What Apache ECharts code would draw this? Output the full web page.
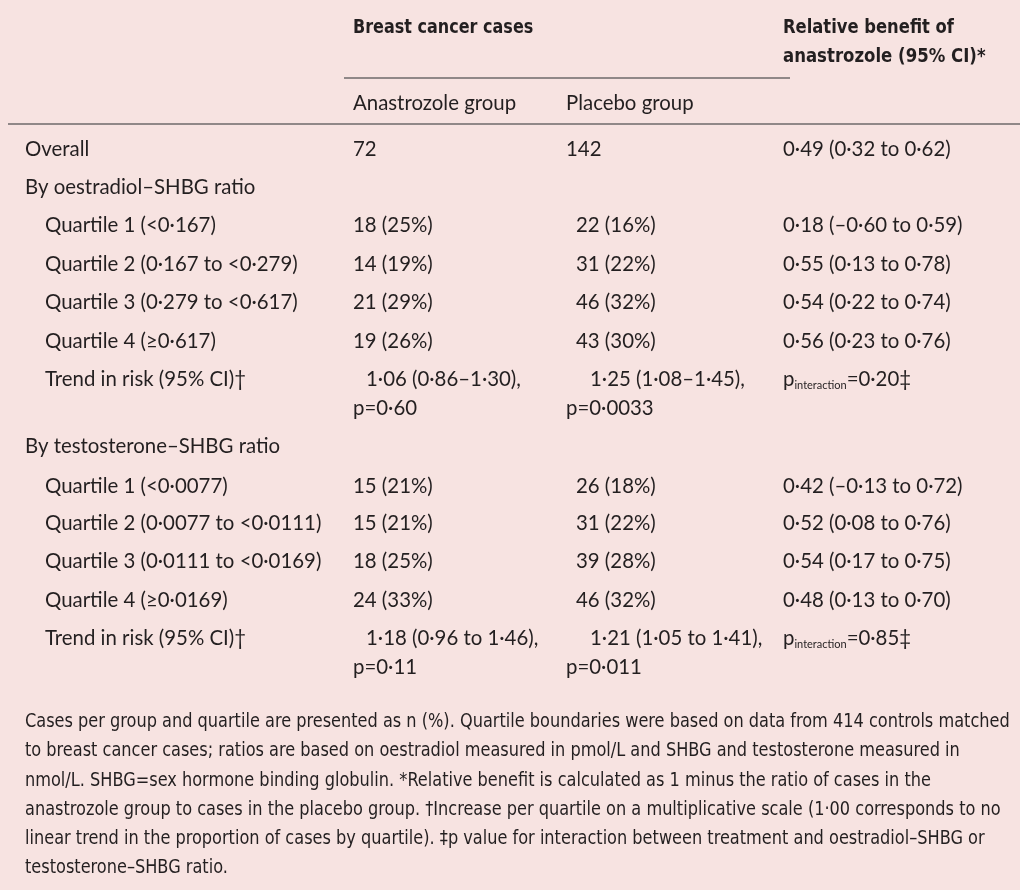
<!DOCTYPE html>
<html><head><meta charset="utf-8">
<script src="https://cdn.jsdelivr.net/npm/echarts@6/dist/echarts.min.js"></script>
<style>html,body{margin:0;padding:0;background:#F7E3E1}#c{width:1020px;height:890px}</style>
</head><body><div id="c"></div>
<script>
// ---------- data ----------
const topHeaders = ['Breast cancer cases', 'Relative benefit of\nanastrozole (95% CI)*'];
const groupHeaders = ['Anastrozole group', 'Placebo group'];
const rowLabels = [
  'Overall',
  'By oestradiol–SHBG ratio',
  'Quartile 1 (<0·167)',
  'Quartile 2 (0·167 to <0·279)',
  'Quartile 3 (0·279 to <0·617)',
  'Quartile 4 (≥0·617)',
  'Trend in risk (95% CI)†',
  'By testosterone–SHBG ratio',
  'Quartile 1 (<0·0077)',
  'Quartile 2 (0·0077 to <0·0111)',
  'Quartile 3 (0·0111 to <0·0169)',
  'Quartile 4 (≥0·0169)',
  'Trend in risk (95% CI)†'
];
const anastrozoleCases = ['72', '', '18 (25%)', '14 (19%)', '21 (29%)', '19 (26%)',
  '1·06 (0·86–1·30),\np=0·60', '', '15 (21%)', '15 (21%)', '18 (25%)', '24 (33%)',
  '1·18 (0·96 to 1·46),\np=0·11'];
const placeboCases = ['142', '', '22 (16%)', '31 (22%)', '46 (32%)', '43 (30%)',
  '1·25 (1·08–1·45),\np=0·0033', '', '26 (18%)', '31 (22%)', '39 (28%)', '46 (32%)',
  '1·21 (1·05 to 1·41),\np=0·011'];
const relativeBenefit = ['0·49 (0·32 to 0·62)', '', '0·18 (–0·60 to 0·59)', '0·55 (0·13 to 0·78)',
  '0·54 (0·22 to 0·74)', '0·56 (0·23 to 0·76)', 'p_interaction=0·20‡', '',
  '0·42 (–0·13 to 0·72)', '0·52 (0·08 to 0·76)', '0·54 (0·17 to 0·75)', '0·48 (0·13 to 0·70)',
  'p_interaction=0·85‡'];
const footnoteLines = [
  'Cases per group and quartile are presented as n (%). Quartile boundaries were based on data from 414 controls matched',
  'to breast cancer cases; ratios are based on oestradiol measured in pmol/L and SHBG and testosterone measured in',
  'nmol/L. SHBG=sex hormone binding globulin. *Relative benefit is calculated as 1 minus the ratio of cases in the',
  'anastrozole group to cases in the placebo group. †Increase per quartile on a multiplicative scale (1·00 corresponds to no',
  'linear trend in the proportion of cases by quartile). ‡p value for interaction between treatment and oestradiol–SHBG or',
  'testosterone–SHBG ratio.'
];

// ---------- layout ----------
const rowIndent = [0,0,1,1,1,1,1,0,1,1,1,1,1];
const rowY = [149,187,225,264,302,341,379,446,486,523,561,600,638];
const colX = [25, 353, 566, 783];
const indentPx = 20;
const secondLineGap = 29;
const firstLineShift = [0, 13, 24, 0];
const quartileShift = [0, 0, 10, 0];
const bodyFont = '20.4px Lato, "Noto Sans", sans-serif';
const headFont = 'bold 20px "DejaVu Sans Condensed", sans-serif';
const noteFont = '19px "DejaVu Sans Condensed", sans-serif';
const ink = '#231f20';

const cells = [];
cells.push({x: colX[1], y: 28, text: topHeaders[0], font: headFont, sx: 0.89});
cells.push({x: colX[3], y: 28, text: topHeaders[1].split('\n')[0], font: headFont, sx: 0.91});
cells.push({x: colX[3], y: 57, text: topHeaders[1].split('\n')[1], font: headFont, sx: 0.92});
cells.push({x: colX[1], y: 103, text: groupHeaders[0], font: bodyFont});
cells.push({x: colX[2], y: 103, text: groupHeaders[1], font: bodyFont});

const columns = [rowLabels, anastrozoleCases, placeboCases, relativeBenefit];
rowLabels.forEach((_, r) => {
  columns.forEach((col, c) => {
    const t = col[r];
    if (!t) return;
    let x = colX[c] + (c === 0 ? rowIndent[r] * indentPx : 0);
    const isQuartile = /^Quartile/.test(rowLabels[r]);
    if (isQuartile) x += quartileShift[c];
    const lines = t.split('\n');
    if (lines.length === 2) {
      cells.push({x: x + firstLineShift[c], y: rowY[r], text: lines[0], font: bodyFont});
      cells.push({x: x, y: rowY[r] + secondLineGap, text: lines[1], font: bodyFont});
    } else {
      let txt = t, rich = null;
      const m = t.match(/^p_(\w+)(=.*)$/);
      if (m) { txt = 'p{s|' + m[1] + '}' + m[2]; rich = true; }
      cells.push({x, y: rowY[r], text: txt, font: bodyFont, rich});
    }
  });
});
footnoteLines.forEach((t, i) => {
  cells.push({x: 25, y: 722 + i * 29.3, text: t, font: noteFont, sx: 0.945});
});

const chart = echarts.init(document.getElementById('c'), null, {renderer: 'canvas'});
chart.setOption({
  backgroundColor: '#F7E3E1',
  animation: false,
  grid: {left: 0, right: 0, top: 0, bottom: 0},
  xAxis: {type: 'value', min: 0, max: 1020, show: false},
  yAxis: {type: 'value', min: 0, max: 890, inverse: true, show: false},
  graphic: [
    {type: 'line', shape: {x1: 344, y1: 78, x2: 790, y2: 78}, style: {stroke: '#6e6a6a', lineWidth: 1.5}},
    {type: 'line', shape: {x1: 8, y1: 124, x2: 1020, y2: 124}, style: {stroke: '#6e6a6a', lineWidth: 1.5}}
  ],
  series: [{
    type: 'custom',
    coordinateSystem: 'cartesian2d',
    data: cells.map(c => [c.x, c.y]),
    renderItem: function (params, api) {
      const c = cells[params.dataIndex];
      const p = api.coord([api.value(0), api.value(1)]);
      const style = {
        text: c.text, x: 0, y: 0, fill: ink, font: c.font,
        textAlign: 'left', textVerticalAlign: 'middle', align: 'left', verticalAlign: 'middle'
      };
      if (c.rich) {
        style.rich = {s: {font: '11px Lato, "Noto Sans", sans-serif', fill: ink, verticalAlign: 'bottom', padding: [12, 0, 0, 0]}};
      }
      return {type: 'text', x: p[0], y: p[1], scaleX: c.sx || 1, style};
    }
  }]
});
</script>
</body></html>
